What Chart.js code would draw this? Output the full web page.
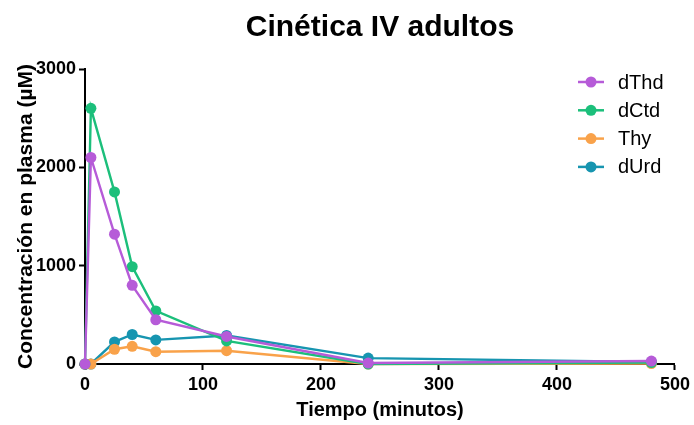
<!DOCTYPE html>
<html>
<head>
<meta charset="utf-8">
<script src="https://cdn.jsdelivr.net/npm/chart.js@4"></script>
<style>
  html, body { margin: 0; padding: 0; background: #fff; }
  #wrap { width: 694px; height: 425px; position: relative; }
</style>
</head>
<body>
<div id="wrap"><canvas id="chart"></canvas></div>
<script>
// data
const times = [0, 5, 25, 40, 60, 120, 240, 480]
const dThd = [0, 2100, 1320, 800, 450, 280, 10, 30]
const dCtd = [0, 2600, 1750, 990, 540, 235, 0, 15]
const thy = [0, 0, 150, 180, 125, 135, 0, 5]
const dUrd = [0, 0, 225, 300, 245, 290, 60, 20]

const seriesNames = ["dThd", "dCtd", "Thy", "dUrd"]
const seriesColors = ["#b65bd8", "#1cbf7b", "#f9a24a", "#1795b0"]
const yTicks = [0, 1000, 2000, 3000]
const xTicks = [0, 100, 200, 300, 400, 500]

const chartTitle = "Cinética IV adultos"
const xTitle = "Tiempo (minutos)"
const yTitle = "Concentración en plasma (µM)"

const font = "'Liberation Sans', Arial, sans-serif"
Chart.defaults.font.family = font
Chart.defaults.color = "#000"

const toPoints = (vals) => vals.map((v, i) => ({ x: times[i], y: v }))
const allSeries = [dThd, dCtd, thy, dUrd]

const datasets = allSeries.map((vals, i) => ({
  label: seriesNames[i],
  data: toPoints(vals),
  borderColor: seriesColors[i],
  backgroundColor: seriesColors[i],
  pointBackgroundColor: seriesColors[i],
  pointBorderColor: seriesColors[i],
  borderWidth: 2.4,
  pointRadius: 5.5,
  pointBorderWidth: 0,
  tension: 0,
  clip: false
}))

// title and legend painted by hand so they can sit where the original has them
const decorPlugin = {
  id: "decor",
  afterDraw(chart) {
    const ctx = chart.ctx
    const area = chart.chartArea
    ctx.save()
    ctx.fillStyle = "#000"
    ctx.font = "bold 30px " + font
    ctx.textAlign = "center"
    ctx.textBaseline = "middle"
    ctx.fillText(chartTitle, (area.left + area.right) / 2, 28)

    ctx.font = "20px " + font
    ctx.textAlign = "left"
    seriesNames.forEach((name, i) => {
      const y = 82 + i * 28.3
      ctx.strokeStyle = seriesColors[i]
      ctx.lineWidth = 2.5
      ctx.beginPath()
      ctx.moveTo(578, y)
      ctx.lineTo(604, y)
      ctx.stroke()
      ctx.fillStyle = seriesColors[i]
      ctx.beginPath()
      ctx.arc(591, y, 5.5, 0, Math.PI * 2)
      ctx.fill()
      ctx.fillStyle = "#000"
      ctx.fillText(name, 618, y + 1)
    })
    ctx.restore()
  }
}

new Chart(document.getElementById("chart"), {
  type: "line",
  data: { datasets },
  plugins: [decorPlugin],
  options: {
    responsive: true,
    maintainAspectRatio: false,
    animation: false,
    layout: { padding: { top: 69, right: 17, left: 0, bottom: 0 } },
    plugins: {
      legend: { display: false },
      title: { display: false },
      tooltip: { enabled: false }
    },
    scales: {
      x: {
        type: "linear",
        min: 0,
        max: 500,
        afterBuildTicks: (axis) => { axis.ticks = xTicks.map(v => ({ value: v })) },
        afterFit: (axis) => { axis.height = 61 },
        border: { color: "#000", width: 2 },
        grid: { drawOnChartArea: false, drawTicks: true, tickLength: 6, tickColor: "#000", tickWidth: 2 },
        ticks: { font: { size: 18, weight: "bold" }, padding: 4, maxRotation: 0, callback: (v) => String(v) },
        title: {
          display: true,
          text: xTitle,
          font: { size: 20, weight: "bold" },
          padding: { top: 0, bottom: 3 }
        }
      },
      y: {
        min: 0,
        max: 3000,
        afterBuildTicks: (axis) => { axis.ticks = yTicks.map(v => ({ value: v })) },
        afterFit: (axis) => { axis.width = 85 },
        border: { color: "#000", width: 2 },
        grid: { drawOnChartArea: false, drawTicks: true, tickLength: 6, tickColor: "#000", tickWidth: 2 },
        ticks: { font: { size: 18, weight: "bold" }, padding: 3, callback: (v) => String(v) },
        title: {
          display: true,
          text: yTitle,
          font: { size: 21, weight: "bold" },
          padding: { top: 14, bottom: 0 }
        }
      }
    }
  }
})
</script>
</body>
</html>
